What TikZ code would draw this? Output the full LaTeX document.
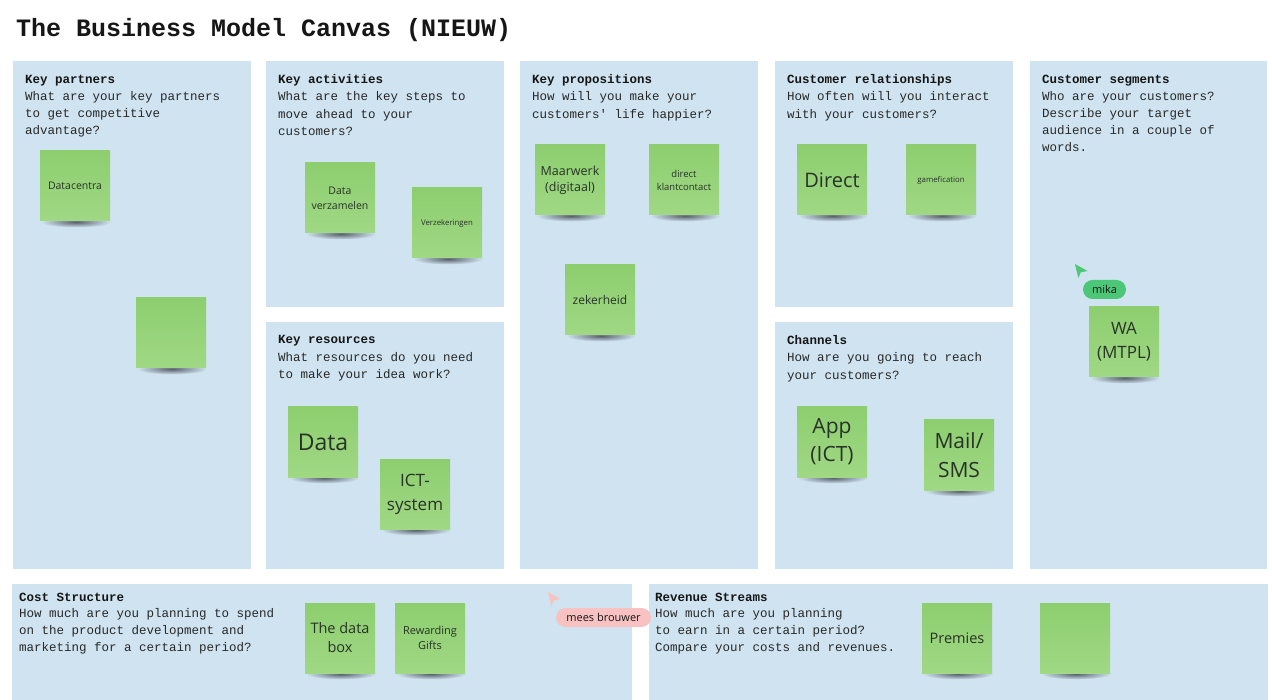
\documentclass[tikz,border=0pt]{standalone}
\usepackage{fontspec}
\setmainfont{Open Sans}
\setmonofont{Liberation Mono}
\usetikzlibrary{shapes.misc}
\definecolor{panelbg}{RGB}{207,227,240}
\definecolor{notetop}{RGB}{141,206,111}
\definecolor{notebot}{RGB}{160,216,132}
\definecolor{notetext}{RGB}{40,50,40}
\definecolor{shadowc}{RGB}{88,96,106}
\definecolor{mikagreen}{RGB}{76,199,120}
\definecolor{meespink}{RGB}{249,194,194}
\definecolor{headc}{RGB}{22,22,22}
\definecolor{bodyc}{RGB}{40,40,40}
\newcommand\stickynote[6]{% name, x, y, size, leading, text
  \shade[inner color=shadowc, outer color=panelbg] (#2+36,#3+71) ellipse [x radius=35, y radius=5.5];
  \node[sticky, font=\fontsize{#4}{#5}\selectfont] (#1) at (#2+35,#3+35) {#6};
}
\begin{document}
\begin{tikzpicture}[x=1pt,y=-1pt,
  panel/.style={fill=panelbg, draw=none, anchor=north west, inner sep=0pt, outer sep=0pt},
  ptext/.style={anchor=north west, align=left, inner sep=0pt, text=bodyc,
    font=\ttfamily\fontsize{12.5}{17.2}\selectfont},
  sticky/.style={minimum width=70pt, minimum height=70pt, inner sep=1pt,
    top color=notetop, bottom color=notebot, align=center, text=notetext},
  pill/.style={rounded rectangle, inner sep=0pt, minimum height=19pt, text=headc,
    font=\fontsize{11}{13}\selectfont}
]
\useasboundingbox (0,0) rectangle (1272,700);
\fill[white] (0,0) rectangle (1272,700);

\node[anchor=base west, inner sep=0pt, text=headc, font=\ttfamily\bfseries\fontsize{25}{30}\selectfont] (title) at (16,37) {The Business Model Canvas (NIEUW)};

% panels
\node[panel, minimum width=238pt, minimum height=508pt] (kp) at (13,61) {};
\node[panel, minimum width=238pt, minimum height=246pt] (ka) at (266,61) {};
\node[panel, minimum width=238pt, minimum height=247pt] (kr) at (266,322) {};
\node[panel, minimum width=238pt, minimum height=508pt] (vp) at (520,61) {};
\node[panel, minimum width=238pt, minimum height=246pt] (cr) at (775,61) {};
\node[panel, minimum width=238pt, minimum height=247pt] (ch) at (775,322) {};
\node[panel, minimum width=237pt, minimum height=508pt] (cs) at (1030,61) {};
\node[panel, minimum width=620pt, minimum height=116pt] (cost) at (12,584) {};
\node[panel, minimum width=619pt, minimum height=116pt] (rev) at (649,584) {};

% panel texts
\node[ptext] (kpt) at (25,74.5) {\textbf{\color{headc}Key partners}\\What are your key partners\\to get competitive\\advantage?};
\node[ptext] (kat) at (278,74.5) {\textbf{\color{headc}Key activities}\\What are the key steps to\\move ahead to your\\customers?};
\node[ptext] (krt) at (278,335.5) {\textbf{\color{headc}Key resources}\\What resources do you need\\to make your idea work?};
\node[ptext] (vpt) at (532,74.5) {\textbf{\color{headc}Key propositions}\\How will you make your\\customers' life happier?};
\node[ptext] (crt) at (787,74.5) {\textbf{\color{headc}Customer relationships}\\How often will you interact\\with your customers?};
\node[ptext] (cht) at (787,335.5) {\textbf{\color{headc}Channels}\\How are you going to reach\\your customers?};
\node[ptext] (cst) at (1042,74.5) {\textbf{\color{headc}Customer segments}\\Who are your customers?\\Describe your target\\audience in a couple of\\words.};
\node[ptext, font=\ttfamily\fontsize{12.5}{16.7}\selectfont] (costt) at (19,592.5) {\textbf{\color{headc}Cost Structure}\\How much are you planning to spend\\on the product development and\\marketing for a certain period?};
\node[ptext, font=\ttfamily\fontsize{12.5}{16.7}\selectfont] (revt) at (655,592.5) {\textbf{\color{headc}Revenue Streams}\\How much are you planning\\to earn in a certain period?\\Compare your costs and revenues.};

% sticky notes
\stickynote{datacentra}{40}{151}{10.5}{13}{Datacentra}
\stickynote{emptyone}{136}{298}{10}{12}{}
\stickynote{dataverz}{305}{163}{10.5}{15}{Data\\verzamelen}
\stickynote{verzek}{412}{188}{7.8}{10}{Verzekeringen}
\stickynote{data}{288}{407}{23}{27}{Data}
\stickynote{ict}{380}{459}{17}{24}{ICT-\\system}
\stickynote{maarwerk}{535}{145}{12.5}{16}{Maarwerk\\(digitaal)}
\stickynote{directkc}{649}{145}{9.5}{13}{direct\\klantcontact}
\stickynote{zekerheid}{565}{265}{12}{15}{zekerheid}
\stickynote{direct}{797}{145}{20}{24}{Direct}
\stickynote{gamef}{906}{145}{7.8}{10}{gamefication}
\stickynote{app}{797}{407}{21}{28}{App\\(ICT)}
\stickynote{mail}{924}{420}{21}{29}{Mail/\\SMS}
\stickynote{wa}{1089}{307}{17}{24}{WA\\(MTPL)}
\stickynote{databox}{305}{603}{14.5}{19}{The data\\box}
\stickynote{gifts}{395}{603}{11}{15}{Rewarding\\Gifts}
\stickynote{premies}{922}{603}{14.5}{18}{Premies}
\stickynote{emptytwo}{1040}{603}{10}{12}{}

% collaborator cursors
\fill[mikagreen] (1075,264) -- (1087.5,271) -- (1080.8,272.3) -- (1078.3,278) -- cycle;
\node[pill, fill=mikagreen, minimum width=43pt] (mika) at (1104.5,289.5) {mika};
\fill[meespink] (548,592) -- (560.5,599) -- (553.8,600.3) -- (551.3,606) -- cycle;
\node[pill, fill=meespink, minimum width=95pt] (mees) at (603.5,617.5) {mees brouwer};
\end{tikzpicture}
\end{document}
